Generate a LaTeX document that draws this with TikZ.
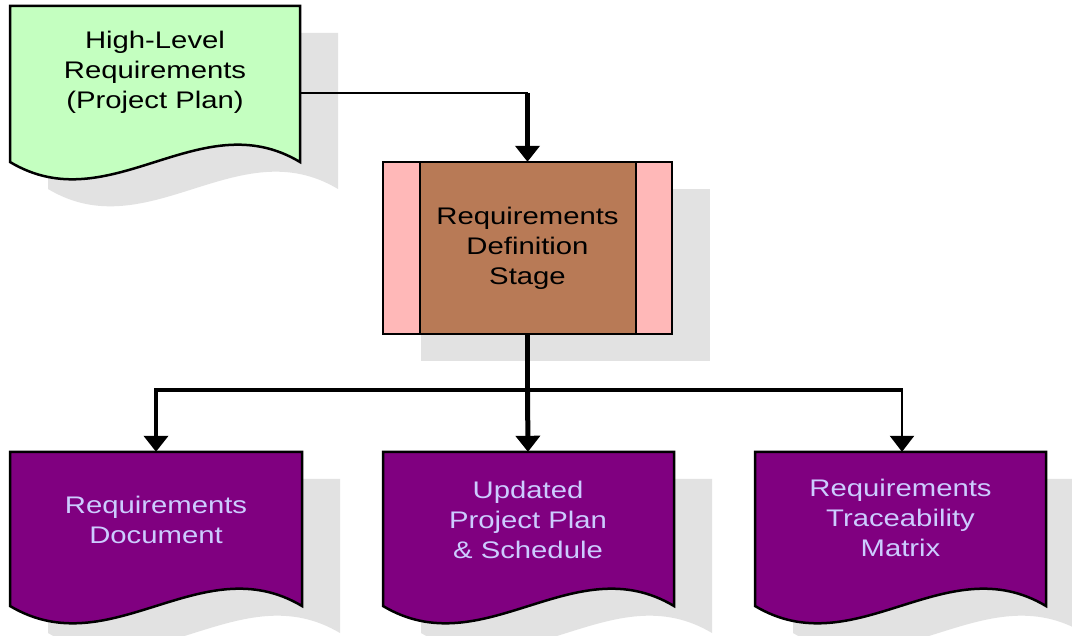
\documentclass[tikz,border=0pt]{standalone}
\usepackage{fontspec}
\setmainfont{Liberation Sans}[FakeStretch=1.22]
\usetikzlibrary{arrows.meta,calc}

\definecolor{docgreen}{HTML}{C4FFC0}
\definecolor{stagebrown}{HTML}{B87A56}
\definecolor{stagepink}{HTML}{FFB8B8}
\definecolor{docpurple}{HTML}{800080}
\definecolor{shadowgray}{HTML}{E2E2E2}
\definecolor{lavender}{HTML}{CCCCFF}

% document shape with wavy bottom and a drop shadow
% #1 fill colour, #2 left, #3 top, #4 right, #5 bottom edge level
\newcommand\docshape[5]{%
  \begin{scope}[shift={(38,27)}]
    \fill[shadowgray] (#2,#3) -- (#4,#3) -- (#4,#5)
      .. controls ({#2+0.655*(#4-#2)},{#5-60}) and ({#2+0.345*(#4-#2)},{#5+60}) .. (#2,#5) -- cycle;
  \end{scope}
  \draw[outline, fill=#1] (#2,#3) -- (#4,#3) -- (#4,#5)
      .. controls ({#2+0.655*(#4-#2)},{#5-60}) and ({#2+0.345*(#4-#2)},{#5+60}) .. (#2,#5) -- cycle;
}

\tikzset{
  outline/.style={draw=black, line width=2.5pt, line join=miter},
  frame/.style={rectangle, draw=none, fill=none, inner sep=0pt},
  txt/.style={align=center, font=\fontsize{24}{30}\selectfont},
  arrowtip/.style={-{Triangle[width=24pt,length=16pt]}},
  thinline/.style={draw=black, line width=1.5pt},
  midline/.style={draw=black, line width=2.5pt},
  branch/.style={draw=black, line width=4pt},
  trunk/.style={draw=black, line width=5pt},
}

\begin{document}
\begin{tikzpicture}[x=1pt,y=-1pt]
\useasboundingbox (0,0) rectangle (1072,636);
\clip (0,0) rectangle (1072,636);
\fill[white] (0,0) rectangle (1072,636);

% high-level requirements document
\docshape{docgreen}{10}{6}{300}{162}
\node[frame, minimum width=290pt, minimum height=174pt] (hl) at (155,93) {};
\node[txt] (hltext) at (155,72) {High-Level\\Requirements\\(Project Plan)};

% requirements definition stage (process box with side bars)
\fill[shadowgray] (421,189) rectangle (710,361);
\fill[stagebrown] (383,162) rectangle (672,334);
\fill[stagepink] (383,162) rectangle (420,334);
\fill[stagepink] (636,162) rectangle (672,334);
\draw[outline] (383,162) rectangle (672,334);
\draw[outline] (420,162) -- (420,334);
\draw[outline] (636,162) -- (636,334);
\node[frame, minimum width=289pt, minimum height=172pt] (rd) at (527.5,248) {};
\node[txt] (rdtext) at (527.5,248) {Requirements\\Definition\\Stage};

% output documents
\docshape{docpurple}{10}{452}{302}{606}
\node[frame, minimum width=292pt, minimum height=154pt] (rdoc) at (156,529) {};
\node[txt, text=lavender] (rdoctext) at (156,520) {Requirements\\Document};

\docshape{docpurple}{383}{452}{674}{606}
\node[frame, minimum width=291pt, minimum height=154pt] (upp) at (528,529) {};
\node[txt, text=lavender] (upptext) at (528,520) {Updated\\Project Plan\\\& Schedule};

\docshape{docpurple}{755}{452}{1046}{606}
\node[frame, minimum width=291pt, minimum height=154pt] (rtm) at (902,529) {};
\node[txt, text=lavender] (rtmtext) at (900.5,518) {Requirements\\Traceability\\Matrix};

% input connector
\coordinate (c1) at (hl.east -| rd.north);
\draw[thinline] (hl.east) -- (c1);
\draw[trunk, arrowtip] (c1) -- (rd.north);

% output connectors
\coordinate (j) at ($(rd.south)+(0,56)$);
\coordinate (jl) at (j -| rdoc.north);
\coordinate (jr) at (j -| rtm.north);
\draw[trunk] (rd.south) -- (j);
\draw[trunk, arrowtip] (j) -- (upp.north);
\draw[branch, line cap=rect] (j) -- (jl);
\draw[branch, arrowtip] (jl) -- (rdoc.north);
\draw[branch] (j) -- (jr);
\draw[midline, arrowtip] ($(jr)+(0,-2)$) -- (rtm.north);
\end{tikzpicture}
\end{document}
